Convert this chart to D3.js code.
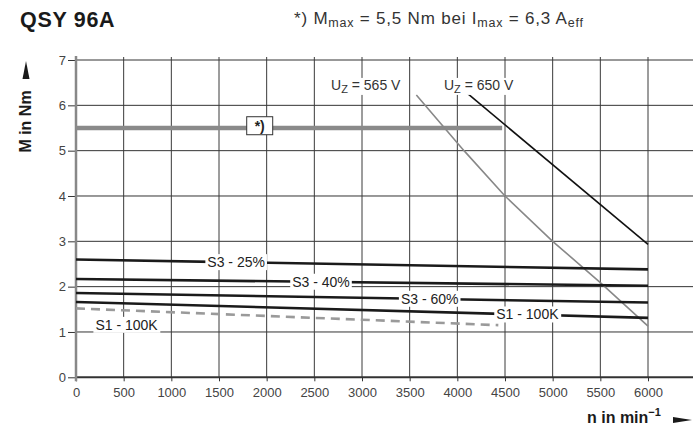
<!DOCTYPE html>
<html><head><meta charset="utf-8">
<script src="https://cdn.jsdelivr.net/npm/d3@7"></script>
<style>
html,body{margin:0;padding:0;background:#fff;}
svg{display:block;font-family:"Liberation Sans",Arial,Helvetica,sans-serif;}
</style></head><body>
<svg id="chart" width="693" height="432"></svg>
<script>
// ---- data ----
const xTicks = [0,500,1000,1500,2000,2500,3000,3500,4000,4500,5000,5500,6000];
const yTicks = [0,1,2,3,4,5,6,7];
const speedS = [0, 6000];
const s3_25 = [2.60, 2.38];
const s3_40 = [2.17, 2.02];
const s3_60 = [1.86, 1.65];
const s1_100k = [1.66, 1.31];
const speedS1Alt = [0, 4430];
const s1_100kAlt = [1.52, 1.15];
const speedMmax = [0, 4470];
const mMax = [5.5, 5.5];
const speedU650 = [4090, 6000];
const u650 = [6.29, 2.93];
const speedU565 = [3570, 4070, 4500, 5000, 5500, 6000];
const u565 = [6.23, 5.0, 4.0, 3.0, 2.09, 1.13];
const curveLabels = ["S3 - 25%", "S3 - 40%", "S3 - 60%", "S1 - 100K"];
const curveLabelSpeeds = [1680, 2570, 3710, 4735];
const altLabel = "S1 - 100K";
const altLabelPos = [530, 1.155];
const voltLabels = ["565 V", "650 V"];
const voltLabelSpeeds = [2675, 3860];
const voltLabelM = 6.34;
const noteBoxPos = [1927, 5.55];

const svg = d3.select("#chart");
const x = d3.scaleLinear().domain([0, 6000]).range([76, 648]);
const y = d3.scaleLinear().domain([0, 7]).range([377.3, 60]);
const W = 693;

// title
svg.append("text").attr("x", 20).attr("y", 27).attr("font-size", 21.5).attr("font-weight", "bold")
  .attr("letter-spacing", 0.7).attr("fill", "#1a1a1a").text("QSY 96A");
const sub = svg.append("text").attr("x", 294).attr("y", 24).attr("font-size", 17).attr("fill", "#333");
sub.append("tspan").text("*) M");
sub.append("tspan").attr("font-size", 12.5).attr("dy", 3).text("max");
sub.append("tspan").attr("dy", -3).text(" = 5,5 Nm bei I");
sub.append("tspan").attr("font-size", 12.5).attr("dy", 3).text("max");
sub.append("tspan").attr("dy", -3).text(" = 6,3 A");
sub.append("tspan").attr("font-size", 12.5).attr("dy", 3).text("eff");
sub.attr("textLength", 289).attr("lengthAdjust", "spacing");

// grid
const g = svg.append("g");
g.selectAll("line.h").data(yTicks.filter(d => d > 0)).join("line")
  .attr("x1", x(0)).attr("x2", W).attr("y1", d => y(d)).attr("y2", d => y(d))
  .attr("stroke", "#333").attr("stroke-width", 1);
g.selectAll("line.v").data(xTicks.filter(d => d > 0)).join("line")
  .attr("x1", d => x(d)).attr("x2", d => x(d)).attr("y1", y(7) - 3).attr("y2", y(0))
  .attr("stroke", "#3a3a3a").attr("stroke-width", 1);

// axes
const ax = svg.append("g").attr("transform", `translate(0,${y(0)})`)
  .call(d3.axisBottom(x).tickValues(xTicks).tickSize(4).tickPadding(6.5).tickFormat(d3.format("d")));
ax.select(".domain").remove();
ax.selectAll("line").attr("stroke", "#333");
ax.selectAll("text").attr("font-size", 13).attr("fill", "#444").attr("font-family", null);
const ay = svg.append("g").attr("transform", `translate(${x(0)},0)`)
  .call(d3.axisLeft(y).tickValues(yTicks).tickSize(8).tickPadding(2).tickFormat(d3.format("d")));
ay.select(".domain").remove();
ay.selectAll("line").attr("stroke", "#333");
ay.selectAll("text").attr("font-size", 13).attr("fill", "#444").attr("font-family", null);

svg.append("line").attr("x1", x(0)).attr("x2", W).attr("y1", y(0)).attr("y2", y(0))
  .attr("stroke", "#333").attr("stroke-width", 2);
svg.append("line").attr("x1", x(0)).attr("x2", x(0)).attr("y1", y(7) - 4).attr("y2", y(0) + 4)
  .attr("stroke", "#888").attr("stroke-width", 2.5);

// axis titles
svg.append("text").attr("transform", "translate(31,121.5) rotate(-90)")
  .attr("text-anchor", "middle").attr("font-size", 16).attr("font-weight", "bold").attr("fill", "#1a1a1a")
  .text("M in Nm");
svg.append("path").attr("d", "M26,61 L29.5,79 L22.5,79 Z").attr("fill", "#1a1a1a");
const xt = svg.append("text").attr("x", 587).attr("y", 423).attr("font-size", 16)
  .attr("font-weight", "bold").attr("fill", "#1a1a1a");
xt.append("tspan").text("n in min");
xt.append("tspan").attr("font-size", 11).attr("dy", -7).text("\u22121");
svg.append("path").attr("d", "M673,417 L692,420 L673,423 Z").attr("fill", "#1a1a1a");

const line = d3.line().x(d => x(d[0])).y(d => y(d[1]));
const pairs = (xs, ys) => xs.map((v, i) => [v, ys[i]]);

// curves
svg.append("path").attr("d", line(pairs(speedMmax, mMax))).attr("fill", "none")
  .attr("stroke", "#8a8a8a").attr("stroke-width", 4.5);
svg.append("path").attr("d", line(pairs(speedS1Alt, s1_100kAlt))).attr("fill", "none")
  .attr("stroke", "#9a9a9a").attr("stroke-width", 2.6).attr("stroke-dasharray", "9,6");
svg.append("path").attr("d", line(pairs(speedU565, u565))).attr("fill", "none")
  .attr("stroke", "#888").attr("stroke-width", 1.6);
svg.append("path").attr("d", line(pairs(speedU650, u650))).attr("fill", "none")
  .attr("stroke", "#111").attr("stroke-width", 1.6);
const sSeries = [s3_25, s3_40, s3_60, s1_100k];
sSeries.forEach(s => {
  svg.append("path").attr("d", line(pairs(speedS, s))).attr("fill", "none")
    .attr("stroke", "#1a1a1a").attr("stroke-width", 2.6);
});

// labels with white background
function boxedText(cx, cy, txt, size) {
  const grp = svg.append("g");
  const t = grp.append("text").attr("x", cx).attr("y", cy).attr("dy", "0.35em")
    .attr("text-anchor", "middle").attr("font-size", size).attr("fill", "#222").text(txt);
  const b = t.node().getBBox();
  grp.insert("rect", "text").attr("x", b.x - 2).attr("y", b.y).attr("width", b.width + 4)
    .attr("height", b.height).attr("fill", "#fff");
  return grp;
}
curveLabels.forEach((lab, i) => {
  const n = curveLabelSpeeds[i];
  const s = sSeries[i];
  const m = d3.scaleLinear().domain(speedS).range(s)(n);
  boxedText(x(n), y(m), lab, 14);
});
boxedText(x(altLabelPos[0]), y(altLabelPos[1]), altLabel, 14);

// voltage labels
voltLabels.forEach((v, i) => {
  const grp = svg.append("g");
  const t = grp.append("text").attr("x", x(voltLabelSpeeds[i])).attr("y", y(voltLabelM))
    .attr("font-size", 14).attr("fill", "#333");
  t.append("tspan").text("U");
  t.append("tspan").attr("font-size", 11).attr("dy", 3).text("Z");
  t.append("tspan").attr("dy", -3).text(" = " + v);
  const b = t.node().getBBox();
  grp.insert("rect", "text").attr("x", b.x - 2).attr("y", b.y + 1).attr("width", b.width + 4)
    .attr("height", b.height - 1).attr("fill", "#fff");
});

// note box
const nb = svg.append("g");
nb.append("rect").attr("x", x(noteBoxPos[0]) - 13).attr("y", y(noteBoxPos[1]) - 9)
  .attr("width", 26).attr("height", 18).attr("fill", "#fff").attr("stroke", "#333").attr("stroke-width", 1);
nb.append("text").attr("x", x(noteBoxPos[0])).attr("y", y(noteBoxPos[1])).attr("dy", "0.35em")
  .attr("text-anchor", "middle").attr("font-size", 14).attr("font-weight", "bold").attr("fill", "#222").text("*)");
</script>
</body></html>
